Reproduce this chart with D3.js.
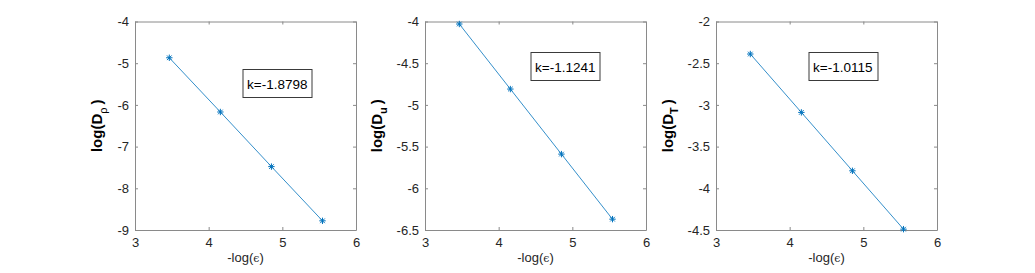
<!DOCTYPE html>
<html>
<head>
<meta charset="utf-8">
<script src="https://cdn.jsdelivr.net/npm/d3@7"></script>
<style>
  html, body { margin: 0; padding: 0; background: #fff; }
  svg { display: block; font-family: "Liberation Sans", Arial, sans-serif; }
</style>
</head>
<body>
<div id="chart"></div>
<script>
// -log(eps) values shared by all three panels
const xValues = [3.4657, 4.1589, 4.8520, 5.5452];

// log errors per panel
const rhoValues = [-4.87, -6.17, -7.48, -8.78];
const uValues = [-4.03, -4.81, -5.59, -6.37];
const tValues = [-2.39, -3.09, -3.79, -4.49];

const xTicks = [3, 4, 5, 6];
const rhoTicks = [-9, -8, -7, -6, -5, -4];
const uTicks = [-6.5, -6, -5.5, -5, -4.5, -4];
const tTicks = [-4.5, -4, -3.5, -3, -2.5, -2];

const slopeLabels = ['k=-1.8798', 'k=-1.1241', 'k=-1.0115'];
const subscripts = ['\u03C1', 'u', 'T'];

const panels = [
  { values: rhoValues, ticks: rhoTicks, left: 135, box: [108, 48] },
  { values: uValues, ticks: uTicks, left: 425, box: [106, 31] },
  { values: tValues, ticks: tTicks, left: 716, box: [93, 31] },
];

const width = 1035, height = 273;
const plotTop = 21.5, plotW = 221, plotH = 208.5;
const lineColor = '#0072BD';
const axisColor = '#8a8a8a';
const textColor = '#262626';

const svg = d3.select('#chart').append('svg')
  .attr('width', width)
  .attr('height', height);

panels.forEach((p, i) => {
  const x = d3.scaleLinear().domain([3, 6]).range([0, plotW]);
  const y = d3.scaleLinear().domain(d3.extent(p.ticks)).range([plotH, 0]);

  const g = svg.append('g').attr('transform', `translate(${p.left},${plotTop})`);

  // inward ticks on all sides, MATLAB style
  const ax = [
    g.append('g').attr('transform', `translate(0,${plotH})`)
      .call(d3.axisBottom(x).tickValues(xTicks).tickSizeInner(-3).tickSizeOuter(0).tickPadding(8).tickFormat(d3.format('d'))),
    g.append('g')
      .call(d3.axisLeft(y).tickValues(p.ticks).tickSizeInner(-3).tickSizeOuter(0).tickPadding(6).tickFormat(d => String(d))),
    g.append('g')
      .call(d3.axisTop(x).tickValues(xTicks).tickSizeInner(-3).tickSizeOuter(0).tickFormat('')),
    g.append('g').attr('transform', `translate(${plotW},0)`)
      .call(d3.axisRight(y).tickValues(p.ticks).tickSizeInner(-3).tickSizeOuter(0).tickFormat('')),
  ];
  ax.forEach(a => {
    a.select('.domain').attr('stroke', axisColor).attr('stroke-width', 1);
    a.selectAll('.tick line').attr('stroke', axisColor);
    a.selectAll('.tick text').attr('fill', textColor).style('font-size', '13px');
  });

  const pts = xValues.map((v, j) => [v, p.values[j]]);

  g.append('path')
    .datum(pts)
    .attr('fill', 'none')
    .attr('stroke', lineColor)
    .attr('stroke-width', 0.8)
    .attr('d', d3.line().x(d => x(d[0])).y(d => y(d[1])));

  // asterisk markers
  const r = 3.2, rd = r * 0.72;
  g.selectAll('.marker')
    .data(pts)
    .enter().append('path')
    .attr('class', 'marker')
    .attr('transform', d => `translate(${x(d[0])},${y(d[1])})`)
    .attr('stroke', lineColor)
    .attr('stroke-width', 1)
    .attr('fill', 'none')
    .attr('d', `M${-r},0H${r}M0,${-r}V${r}M${-rd},${-rd}L${rd},${rd}M${-rd},${rd}L${rd},${-rd}`);

  // slope annotation box
  const bg = g.append('g').attr('transform', `translate(${p.box[0]},${p.box[1]})`);
  bg.append('rect')
    .attr('width', 69).attr('height', 28)
    .attr('fill', '#fff')
    .attr('stroke', '#3a3a3a')
    .attr('stroke-width', 1);
  bg.append('text')
    .attr('x', 4).attr('y', 19)
    .attr('fill', '#000')
    .style('font-size', '13.5px')
    .text(slopeLabels[i]);

  // x label
  const xl = g.append('text')
    .attr('x', plotW / 2).attr('y', 240)
    .attr('text-anchor', 'middle')
    .attr('fill', textColor)
    .style('font-size', '13px');
  xl.append('tspan').text('-log(');
  xl.append('tspan').style('font-family', '"DejaVu Serif", serif').style('font-size', '11px').text('\u03F5');
  xl.append('tspan').text(')');

  // y label, offset by the widest tick label
  let maxW = 0;
  ax[1].selectAll('.tick text').each(function() { maxW = Math.max(maxW, this.getBBox().width); });
  const lx = -maxW - 6 - 15;
  const yl = g.append('text')
    .attr('transform', `translate(${lx},${plotH / 2}) rotate(-90)`)
    .attr('text-anchor', 'middle')
    .attr('fill', '#000')
    .style('font-size', '15px')
    .style('font-weight', 'bold');
  yl.append('tspan').text('log(D');
  yl.append('tspan').attr('dy', 5).style('font-size', '11px').style('font-weight', i === 0 ? 'normal' : 'bold').text(subscripts[i]);
  yl.append('tspan').attr('dy', -5).attr('dx', 3).text(')');
});
</script>
</body>
</html>
